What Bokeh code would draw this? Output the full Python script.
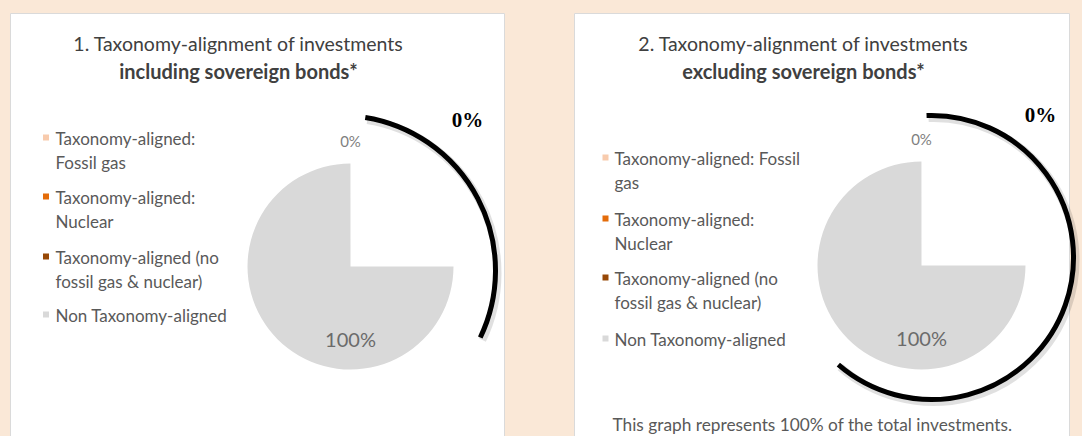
import numpy as np
from bokeh.plotting import figure
from bokeh.models import Range1d
from bokeh.core.properties import value
from bokeh.embed import file_html
from bokeh.resources import INLINE

# ---------------- data ----------------
categories = ["Taxonomy-aligned: Fossil gas", "Taxonomy-aligned: Nuclear",
              "Taxonomy-aligned (no fossil gas & nuclear)", "Non Taxonomy-aligned"]
incl_sovereign = [0, 0, 0, 100]   # chart 1 (%)
excl_sovereign = [0, 0, 0, 100]   # chart 2 (%)
colors = ["#F8CBAD", "#E46C0A", "#974806", "#D9D9D9"]

legend_lines_1 = [["Taxonomy-aligned:", "Fossil gas"],
                  ["Taxonomy-aligned:", "Nuclear"],
                  ["Taxonomy-aligned (no", "fossil gas & nuclear)"],
                  ["Non Taxonomy-aligned"]]
legend_lines_2 = [["Taxonomy-aligned: Fossil", "gas"],
                  ["Taxonomy-aligned:", "Nuclear"],
                  ["Taxonomy-aligned (no", "fossil gas & nuclear)"],
                  ["Non Taxonomy-aligned"]]
titles_1 = ["1. Taxonomy-alignment of investments", "including sovereign bonds*"]
titles_2 = ["2. Taxonomy-alignment of investments", "excluding sovereign bonds*"]
footnote = "This graph represents 100% of the total investments."

# ---------------- style ----------------
BG = "#FAE8D7"
SANS = value("Lato")
SERIF = value("Liberation Serif")
W, H = 1082, 436


def Y(py):
    return H - py


p = figure(width=W, height=H, x_range=Range1d(0, W), y_range=Range1d(0, H),
           output_backend="svg", toolbar_location=None, min_border=0)
p.axis.visible = False
p.grid.visible = False
p.outline_line_color = None
p.background_fill_color = BG
p.border_fill_color = BG


def panel(values, legend_lines, titles, L):
    # white card
    p.quad(left=L["box"][0], right=L["box"][1], top=Y(13), bottom=Y(460),
           fill_color="white", line_color="#DADADA", line_width=1)
    # titles
    p.text(x=[L["title_x"]], y=[Y(43)], text=[titles[0]], text_font=SANS,
           text_font_size="19.5px", text_color="#404040", text_align="center",
           text_baseline="middle")
    p.text(x=[L["title_x"]], y=[Y(70)], text=[titles[1]], text_font=SANS,
           text_font_size="20px", text_font_style="bold", text_color="#404040",
           text_align="center", text_baseline="middle")
    # legend
    for i, lines in enumerate(legend_lines):
        y0 = L["legend_y"][i]
        p.rect(x=[L["mx"]], y=[Y(y0 - 1)], width=6, height=6,
               fill_color=colors[i], line_color=None)
        for j, t in enumerate(lines):
            p.text(x=[L["tx"]], y=[Y(y0 + j * L["gap"])], text=[t], text_font=SANS,
                   text_font_size="17px", text_color="#595959", text_align="left",
                   text_baseline="middle")
    # pie (starts at 12 o'clock, clockwise)
    cx, cy, r = L["pie"]
    total = float(sum(values))
    cum = np.concatenate([[0], np.cumsum(values)]) / total
    for i, v in enumerate(values):
        if v <= 0:
            continue
        sweep = min((cum[i + 1] - cum[i]) * 2 * np.pi, 2 * np.pi - 1e-3)
        start = np.pi / 2 - cum[i] * 2 * np.pi
        p.wedge(x=cx, y=Y(cy), radius=r, start_angle=start, end_angle=start - sweep,
                direction="clock", fill_color=colors[i], line_color=None)
    # white cut-out quadrant as in the original figure
    p.wedge(x=cx, y=Y(cy), radius=r + 3, start_angle=0, end_angle=np.pi / 2,
            direction="anticlock", fill_color="white", line_color=None)
    # data labels
    zeros_drawn = False
    for i, v in enumerate(values):
        mid = np.pi / 2 - (cum[i] + cum[i + 1]) * np.pi
        if v > 0:
            lx, ly = cx + 0.7 * r * np.cos(mid), Y(cy) + 0.7 * r * np.sin(mid)
            p.text(x=[lx], y=[ly], text=[f"{v:g}%"], text_font=SANS, text_font_size="20px",
                   text_color="#6B6B6B", text_align="center", text_baseline="middle")
        elif not zeros_drawn:
            zeros_drawn = True
            lx, ly = cx, Y(cy) + 1.22 * r
            p.text(x=[lx], y=[ly], text=[f"{v:g}%"], text_font=SANS, text_font_size="15px",
                   text_color="#7F7F7F", text_align="center", text_baseline="middle")
    # bracket arc marking taxonomy-aligned share
    ax, ay, ar, a0, a1 = L["arc"]
    p.arc(x=ax + 2, y=Y(ay) - 2.5, radius=ar, start_angle=np.radians(a0),
          end_angle=np.radians(a1), direction="clock", line_color="#000000",
          line_alpha=0.12, line_width=8)
    p.arc(x=ax, y=Y(ay), radius=ar, start_angle=np.radians(a0), end_angle=np.radians(a1),
          direction="clock", line_color="#000000", line_width=5)
    aligned = sum(values[:3])
    p.text(x=[L["arc_label"][0]], y=[Y(L["arc_label"][1])], text=[f"{aligned:g}%"],
           text_font=SERIF, text_font_size="21px", text_font_style="bold",
           text_color="#000000", text_align="center", text_baseline="middle")


layout1 = dict(box=(10, 504), title_x=238, mx=45.5, tx=55, legend_y=[138, 197, 257, 315],
               gap=23.5, pie=(350, 266, 103), arc=(340, 270, 155, 80.8, -25.6),
               arc_label=(467, 119))
layout2 = dict(box=(574, 1069), title_x=803, mx=605, tx=614, legend_y=[158, 219, 278, 339],
               gap=23.5, pie=(921, 265, 104), arc=(931, 257, 142, 92.0, -131.0),
               arc_label=(1040, 114))

panel(incl_sovereign, legend_lines_1, titles_1, layout1)
panel(excl_sovereign, legend_lines_2, titles_2, layout2)

p.text(x=[612], y=[Y(424)], text=[footnote], text_font=SANS, text_font_size="17.3px",
       text_color="#595959", text_align="left", text_baseline="middle")

html = file_html(p, INLINE)
html = html.replace("</head>",
                    "<style>html,body{margin:0;padding:0;overflow:hidden;background:%s;}</style></head>" % BG, 1)
open("out.html", "w").write(html)
